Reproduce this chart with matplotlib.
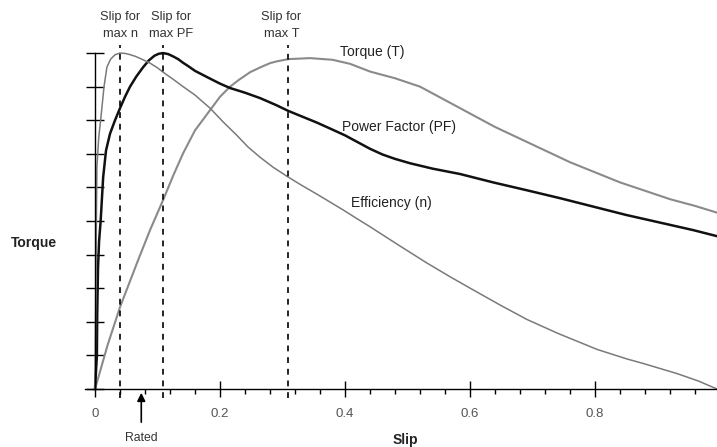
import numpy as np
import matplotlib.pyplot as plt
from matplotlib.ticker import FixedLocator

plt.rcParams['font.family'] = ['Liberation Sans', 'DejaVu Sans']

# curvas (slip, valor relativo 0-10)
slip_t = [0, 0.02, 0.04, 0.069, 0.088, 0.109, 0.125, 0.141, 0.16, 0.184, 0.2,
          0.216, 0.23, 0.248, 0.265, 0.28, 0.29, 0.309, 0.344, 0.38, 0.408,
          0.44, 0.48, 0.52, 0.56, 0.6, 0.64, 0.68, 0.72, 0.76, 0.8,
          0.84, 0.88, 0.92, 0.96, 0.995]
torque = [0, 1.3, 2.44, 3.84, 4.73, 5.63, 6.35, 7.02, 7.7, 8.3, 8.7,
          9.0, 9.2, 9.43, 9.58, 9.7, 9.75, 9.82, 9.85, 9.8, 9.68,
          9.45, 9.25, 9.0, 8.6, 8.2, 7.8, 7.45, 7.1, 6.75, 6.45,
          6.15, 5.9, 5.65, 5.45, 5.25]

slip_pf = [0, 0.003, 0.0035, 0.0048, 0.0065, 0.009, 0.013, 0.0176, 0.024, 0.032,
           0.04, 0.048, 0.056, 0.066, 0.077, 0.086, 0.095, 0.102, 0.109, 0.117,
           0.125, 0.133, 0.141, 0.15, 0.16, 0.184, 0.2, 0.216, 0.24, 0.264,
           0.29, 0.309, 0.33, 0.355, 0.38, 0.4, 0.42, 0.44, 0.46, 0.48,
           0.504, 0.54, 0.584, 0.637, 0.69, 0.744, 0.797, 0.85, 0.9, 0.957, 0.995]
pf = [0, 1.0, 2.2, 3.6, 4.4, 5.0, 6.3, 7.1, 7.6, 8.0,
      8.36, 8.7, 9.0, 9.3, 9.58, 9.78, 9.92, 9.98, 10.0, 9.97,
      9.9, 9.82, 9.71, 9.6, 9.47, 9.24, 9.09, 8.96, 8.82, 8.66,
      8.45, 8.28, 8.12, 7.93, 7.72, 7.55, 7.35, 7.15, 6.98, 6.85,
      6.72, 6.56, 6.4, 6.15, 5.92, 5.68, 5.43, 5.18, 4.97, 4.73, 4.55]

slip_eff = [0, 0.001, 0.002, 0.003, 0.006, 0.009, 0.0144, 0.019, 0.025, 0.032,
            0.04, 0.048, 0.055, 0.065, 0.077, 0.088, 0.1, 0.109, 0.125, 0.141,
            0.16, 0.184, 0.205, 0.227, 0.245, 0.264, 0.285, 0.309, 0.33, 0.355,
            0.38, 0.397, 0.42, 0.44, 0.48, 0.531, 0.57, 0.605, 0.65, 0.691,
            0.74, 0.803, 0.85, 0.877, 0.931, 0.965, 0.995]
eff = [0, 2.2, 4.6, 6.6, 7.5, 8.0, 9.0, 9.58, 9.82, 9.95,
       10.0, 9.99, 9.96, 9.9, 9.8, 9.7, 9.56, 9.43, 9.22, 9.0,
       8.75, 8.36, 7.95, 7.55, 7.2, 6.9, 6.6, 6.31, 6.07, 5.8,
       5.52, 5.33, 5.06, 4.83, 4.35, 3.75, 3.32, 2.95, 2.48, 2.07,
       1.66, 1.18, 0.9, 0.76, 0.46, 0.24, 0]

# slips marcados
slip_marks = [0.04, 0.109, 0.309]
mark_labels = ['Slip for\nmax n', 'Slip for\nmax PF', 'Slip for\nmax T']
label_shift = [0, 0.012, -0.011]
rated_slip = 0.074

xticks = [0, 0.2, 0.4, 0.6, 0.8]
xtick_labels = ['0', '0.2', '0.4', '0.6', '0.8']
minor_ticks = [0.04, 0.08, 0.12, 0.16, 0.24, 0.28, 0.32, 0.36, 0.44, 0.48, 0.52, 0.56,
               0.64, 0.68, 0.72, 0.76, 0.84, 0.88, 0.92, 0.96]

fig = plt.figure(figsize=(7.17, 4.47), dpi=100)
ax = fig.add_axes([0, 0, 1, 1])
ax.set_xlim(-0.152, 0.995)
ax.set_ylim(-1.726, 11.58)

ax.plot(slip_t, torque, color='#8a8a8a', lw=1.5, solid_joinstyle='round')
ax.plot(slip_pf, pf, color='#111111', lw=1.8, solid_joinstyle='round')
ax.plot(slip_eff, eff, color='#7a7a7a', lw=1.1, solid_joinstyle='round')

for s, lab, dx in zip(slip_marks, mark_labels, label_shift):
    ax.plot([s, s], [-0.27, 10.25], color='black', lw=1.2, ls=(0, (3.5, 3.5)))
    ax.text(s + dx, 11.24, lab, ha='center', va='top', fontsize=9.3,
            color='#333333', linespacing=1.55)

ax.text(0.392, 10.03, 'Torque (T)', fontsize=10, va='center', color='#222222')
ax.text(0.395, 7.8, 'Power Factor (PF)', fontsize=10, va='center', color='#222222')
ax.text(0.410, 5.54, 'Efficiency (n)', fontsize=10, va='center', color='#222222')

ax.text(-0.098, 4.35, 'Torque', fontsize=10, fontweight='bold', ha='center', va='center', color='#222222')
ax.text(0.496, -1.52, 'Slip', fontsize=10, fontweight='bold', ha='center', va='center', color='#222222')
ax.annotate('', xy=(rated_slip, -0.03), xytext=(rated_slip, -1.07),
            arrowprops=dict(arrowstyle='-|>', color='black', lw=1.2, mutation_scale=12))
ax.text(rated_slip, -1.46, 'Rated', fontsize=8.8, ha='center', va='center', color='#333333')

# ejes
for side in ['top', 'right']:
    ax.spines[side].set_visible(False)
ax.spines['left'].set_position(('data', 0))
ax.spines['bottom'].set_position(('data', 0))
ax.spines['left'].set_bounds(0, 10)
ax.spines['bottom'].set_bounds(-0.016, 0.995)
ax.spines['left'].set_linewidth(1.0)
ax.spines['bottom'].set_linewidth(1.0)

ax.set_xticks(xticks)
ax.set_xticklabels(xtick_labels)
ax.xaxis.set_minor_locator(FixedLocator(minor_ticks))
ax.set_yticks(range(0, 11))
ax.set_yticklabels([])
ax.tick_params(axis='x', which='major', direction='inout', length=12, width=1.0,
               pad=8, labelsize=9.5, labelcolor='#555555')
ax.tick_params(axis='x', which='minor', direction='out', length=3.6, width=1.0)
ax.tick_params(axis='y', which='major', direction='inout', length=13, width=1.0)

fig.savefig('out.png', dpi=100)
